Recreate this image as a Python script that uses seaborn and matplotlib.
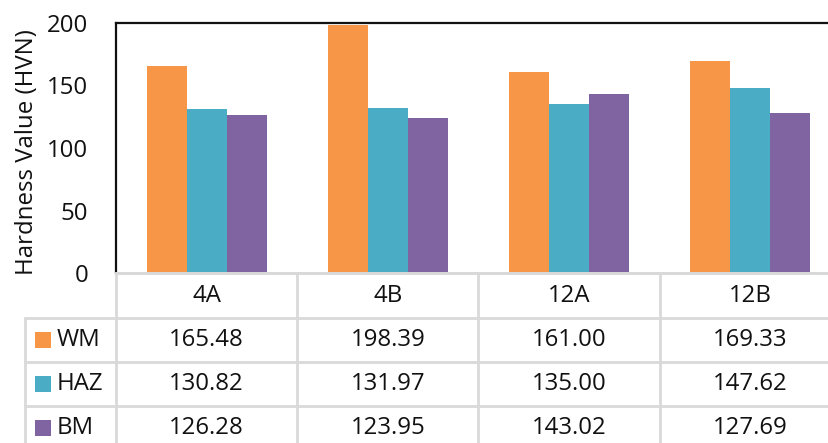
import numpy as np
import pandas as pd
import seaborn as sns
import matplotlib.pyplot as plt
from matplotlib.lines import Line2D
from matplotlib.patches import Rectangle
from matplotlib import transforms

# Hardness data per sample and weld zone
samples = ["4A", "4B", "12A", "12B"]
zones = ["WM", "HAZ", "BM"]
wm = [165.48, 198.39, 161.00, 169.33]
haz = [130.82, 131.97, 135.00, 147.62]
bm = [126.28, 123.95, 143.02, 127.69]
zone_colors = ["#F79646", "#4BACC6", "#8064A2"]
y_ticks = [0, 50, 100, 150, 200]
y_label = "Hardness Value (HVN)"

series = {"WM": wm, "HAZ": haz, "BM": bm}
df = pd.DataFrame(
    [(s, z, series[z][i]) for z in zones for i, s in enumerate(samples)],
    columns=["sample", "zone", "hardness"],
)

sns.set_theme(style="white")
plt.rcParams["font.family"] = ["Open Sans", "DejaVu Sans"]
FS = 17.3
TXT = "#111111"

W, H = 829, 443
fig = plt.figure(figsize=(W / 100, H / 100), dpi=100)
fig.patch.set_facecolor("white")

# plot area in pixel units (left, top, right, bottom)
L, T, R, B = 116, 23, 841, 273
ax = fig.add_axes([L / W, 1 - B / H, (R - L) / W, (B - T) / H])

sns.barplot(data=df, x="sample", y="hardness", hue="zone", order=samples,
            hue_order=zones, palette=zone_colors, saturation=1, width=0.663,
            linewidth=0, legend=False, ax=ax)

ax.set_xlim(-0.5, len(samples) - 0.5)
ax.set_ylim(0, 200)
ax.set_yticks(y_ticks)
ax.set_yticklabels([str(t) for t in y_ticks], fontsize=FS, color=TXT)
ax.tick_params(axis="y", length=0, pad=20)
ax.set_xticks([])
ax.set_xlabel("")
ax.set_ylabel(y_label, fontsize=FS, color=TXT)
ax.yaxis.set_label_coords((39 - L) / (R - L), 0.482)

for side in ["left", "top", "right"]:
    ax.spines[side].set_color("#111111")
    ax.spines[side].set_linewidth(1.6)
ax.spines["bottom"].set_color("#d9d9d9")
ax.spines["bottom"].set_linewidth(2)

# data table below the plot
grid_c = "#d9d9d9"
grid_w = 2
row_tops = [B, 318, 362, 406, 450]
legend_left = 25


def fy(py):
    return 1 - py / H


def hline(x0, x1, py):
    fig.add_artist(Line2D([x0 / W, x1 / W], [fy(py), fy(py)],
                          transform=fig.transFigure, color=grid_c,
                          linewidth=grid_w, clip_on=False))


def vline(px, y0, y1):
    fig.add_artist(Line2D([px / W, px / W], [fy(y0), fy(y1)],
                          transform=fig.transFigure, color=grid_c,
                          linewidth=grid_w, clip_on=False))


for i, py in enumerate(row_tops):
    hline(L if i == 0 else legend_left, R, py)

vline(legend_left, row_tops[1], row_tops[-1])
for k in range(len(samples) + 1):
    px = L + k * (R - L) / len(samples)
    vline(px, row_tops[0], row_tops[-1])

blend = transforms.blended_transform_factory(ax.transData, fig.transFigure)

hdr_y = (row_tops[0] + row_tops[1]) / 2
for i, s in enumerate(samples):
    fig.text(i, fy(hdr_y), s, transform=blend, ha="center", va="center",
             fontsize=FS, color=TXT)

for r, z in enumerate(zones):
    cy = (row_tops[r + 1] + row_tops[r + 2]) / 2
    fig.add_artist(Rectangle((35 / W, fy(cy + 8)), 16 / W, 16 / H,
                             transform=fig.transFigure,
                             facecolor=zone_colors[r], edgecolor="none"))
    fig.text(57 / W, fy(cy), z, ha="left", va="center", fontsize=FS,
             color=TXT)
    for i, v in enumerate(series[z]):
        fig.text(i, fy(cy), f"{v:.2f}", transform=blend, ha="center",
                 va="center", fontsize=FS, color=TXT)

fig.savefig("out.png", dpi=100)
